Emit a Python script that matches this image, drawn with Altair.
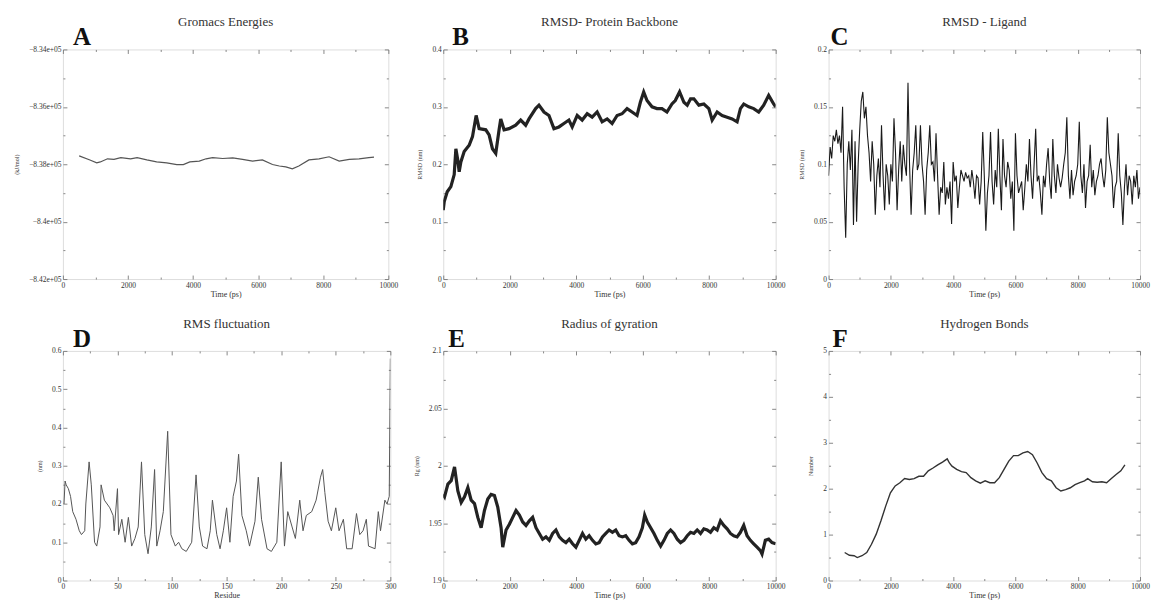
import altair as alt
import pandas as pd

FONT = "Liberation Serif"

# ---------------- data ----------------
# A: Gromacs energies (kJ/mol)
A_time = [500, 830, 1040, 1150, 1370, 1570, 1780, 2080, 2280, 2580, 2880, 3190, 3500, 3700,
          3900, 4190, 4400, 4600, 4910, 5220, 5520, 5830, 6130, 6440, 6650, 6850, 7050, 7250,
          7560, 7870, 8180, 8490, 8800, 9100, 9400, 9560]
A_energy = [-837710, -837850, -837950, -837920, -837810, -837830, -837770, -837810, -837770,
            -837850, -837920, -837950, -838010, -838010, -837920, -837890, -837810, -837770,
            -837800, -837780, -837830, -837890, -837850, -838010, -838060, -838090, -838160,
            -838060, -837850, -837810, -837740, -837890, -837830, -837810, -837770, -837750]

# B: RMSD protein backbone (nm)
B_time = [0, 30, 120, 230, 330, 380, 430, 480, 530, 630, 780, 880, 990, 1080, 1280, 1380, 1480,
          1580, 1680, 1730, 1830, 1980, 2180, 2330, 2480, 2580, 2780, 2880, 3030, 3180, 3330,
          3480, 3630, 3780, 3880, 4030, 4180, 4330, 4480, 4630, 4780, 4930, 5080, 5230, 5380,
          5530, 5680, 5830, 5930, 6030, 6130, 6280, 6430, 6580, 6730, 6880, 6980, 7110, 7240,
          7340, 7440, 7540, 7690, 7840, 7990, 8090, 8240, 8390, 8540, 8690, 8840, 8940, 9040,
          9190, 9340, 9490, 9640, 9790, 9940, 10000]
B_rmsd = [0.12, 0.135, 0.152, 0.161, 0.182, 0.227, 0.21, 0.187, 0.204, 0.222, 0.233, 0.248,
          0.285, 0.262, 0.26, 0.251, 0.227, 0.219, 0.26, 0.279, 0.26, 0.262, 0.268, 0.277, 0.268,
          0.279, 0.297, 0.303, 0.291, 0.285, 0.262, 0.265, 0.271, 0.277, 0.265, 0.285, 0.277,
          0.288, 0.282, 0.291, 0.274, 0.279, 0.271, 0.285, 0.288, 0.297, 0.291, 0.285, 0.308,
          0.326, 0.311, 0.30, 0.297, 0.297, 0.291, 0.305, 0.311, 0.326, 0.308, 0.303, 0.314,
          0.314, 0.303, 0.305, 0.297, 0.277, 0.291, 0.285, 0.282, 0.279, 0.274, 0.297, 0.305,
          0.30, 0.297, 0.291, 0.303, 0.32, 0.305, 0.30]

# C: RMSD ligand (nm), one value every 50 ps
C_time = list(range(0, 10001, 50))
C_rmsd = [
    0.09, 0.115, 0.105, 0.125, 0.12, 0.13, 0.118, 0.125, 0.11, 0.15,
    0.08, 0.036, 0.1, 0.12, 0.095, 0.13, 0.047, 0.12, 0.05, 0.1,
    0.13, 0.155, 0.163, 0.14, 0.15, 0.125, 0.11, 0.085, 0.12, 0.1,
    0.056, 0.09, 0.105, 0.08, 0.134, 0.09, 0.06, 0.1, 0.09, 0.065,
    0.1, 0.085, 0.14, 0.11, 0.06, 0.095, 0.12, 0.085, 0.117, 0.1,
    0.09, 0.171, 0.1, 0.056, 0.095, 0.11, 0.134, 0.095, 0.1, 0.134,
    0.1, 0.085, 0.056, 0.095, 0.11, 0.134, 0.1, 0.102, 0.085, 0.127,
    0.09, 0.056, 0.08, 0.075, 0.102, 0.065, 0.08, 0.07, 0.085, 0.048,
    0.102, 0.085, 0.09, 0.062, 0.08, 0.095, 0.09, 0.085, 0.093, 0.088,
    0.09, 0.08, 0.095, 0.085, 0.07, 0.09, 0.088, 0.065, 0.085, 0.128,
    0.09, 0.042, 0.075, 0.09, 0.128, 0.085, 0.065, 0.095, 0.08, 0.131,
    0.09, 0.06, 0.122, 0.09, 0.08, 0.102, 0.095, 0.07, 0.085, 0.042,
    0.127, 0.09, 0.075, 0.08, 0.085, 0.06, 0.079, 0.1, 0.085, 0.122,
    0.09, 0.07, 0.1, 0.131, 0.085, 0.09, 0.075, 0.056, 0.09, 0.08,
    0.1, 0.114, 0.085, 0.07, 0.122, 0.09, 0.075, 0.1, 0.088, 0.08,
    0.088, 0.1, 0.11, 0.141, 0.09, 0.07, 0.095, 0.073, 0.085, 0.09,
    0.1, 0.137, 0.09, 0.075, 0.1, 0.062, 0.085, 0.09, 0.117, 0.08,
    0.095, 0.073, 0.085, 0.09, 0.1, 0.105, 0.09, 0.08, 0.095, 0.141,
    0.11, 0.1, 0.09, 0.062, 0.08, 0.085, 0.127, 0.09, 0.075, 0.047,
    0.08, 0.1, 0.073, 0.09, 0.085, 0.065, 0.09, 0.08, 0.095, 0.07,
    0.08]

# D: RMS fluctuation per residue (nm)
D_res = [1, 2, 3, 5, 7, 9, 12, 15, 17, 20,
         21, 24, 26, 29, 31, 34, 35, 38, 43, 46,
         47, 50, 51, 54, 57, 60, 63, 66, 69, 72,
         75, 78, 81, 84, 86, 89, 92, 96, 99, 103,
         106, 109, 113, 118, 122, 125, 128, 132, 135, 137,
         141, 144, 147, 150, 153, 156, 159, 161, 164, 168,
         171, 176, 179, 182, 187, 191, 196, 200, 203, 206,
         210, 213, 217, 220, 223, 228, 232, 236, 238, 240,
         243, 246, 250, 253, 257, 260, 265, 269, 272, 275,
         278, 280, 286, 289, 291, 295, 297, 299, 300]
D_rmsf = [0.20, 0.26, 0.25, 0.24, 0.22, 0.18, 0.16, 0.13, 0.12, 0.13,
          0.20, 0.31, 0.25, 0.10, 0.09, 0.14, 0.25, 0.21, 0.19, 0.17,
          0.13, 0.24, 0.12, 0.16, 0.10, 0.165, 0.09, 0.11, 0.14, 0.31,
          0.12, 0.07, 0.14, 0.29, 0.09, 0.13, 0.18, 0.39, 0.12, 0.09,
          0.10, 0.083, 0.076, 0.10, 0.276, 0.14, 0.09, 0.083, 0.13, 0.21,
          0.12, 0.083, 0.13, 0.19, 0.10, 0.22, 0.26, 0.33, 0.17, 0.13,
          0.09, 0.155, 0.27, 0.16, 0.083, 0.076, 0.10, 0.31, 0.09, 0.18,
          0.14, 0.11, 0.21, 0.13, 0.17, 0.18, 0.21, 0.27, 0.29, 0.23,
          0.155, 0.13, 0.19, 0.13, 0.16, 0.083, 0.083, 0.175, 0.12, 0.13,
          0.16, 0.09, 0.083, 0.18, 0.13, 0.21, 0.20, 0.22, 0.58]

# E: radius of gyration (nm)
E_time = [0, 40, 140, 240, 340, 440, 540, 640, 740, 840,
          940, 1040, 1140, 1240, 1340, 1440, 1540, 1640, 1740, 1790,
          1890, 1990, 2090, 2190, 2290, 2390, 2490, 2590, 2690, 2790,
          2890, 2990, 3090, 3190, 3290, 3390, 3490, 3590, 3690, 3790,
          3890, 3990, 4090, 4190, 4290, 4390, 4490, 4590, 4690, 4790,
          4890, 4990, 5090, 5190, 5290, 5390, 5490, 5590, 5690, 5790,
          5890, 5990, 6060, 6140, 6240, 6340, 6440, 6540, 6640, 6740,
          6840, 6940, 7040, 7140, 7240, 7340, 7440, 7540, 7640, 7740,
          7840, 7940, 8040, 8140, 8240, 8340, 8440, 8540, 8640, 8740,
          8840, 8940, 9040, 9140, 9240, 9340, 9440, 9540, 9590, 9690,
          9790, 9890, 10000]
E_rg = [1.975, 1.973, 1.984, 1.987, 1.999, 1.978, 1.968, 1.973, 1.981, 1.970,
        1.967, 1.955, 1.946, 1.961, 1.971, 1.975, 1.974, 1.964, 1.946, 1.929,
        1.944, 1.949, 1.955, 1.961, 1.957, 1.951, 1.948, 1.952, 1.955, 1.946,
        1.941, 1.936, 1.938, 1.935, 1.941, 1.944, 1.938, 1.935, 1.933, 1.936,
        1.932, 1.929, 1.935, 1.941, 1.936, 1.939, 1.935, 1.932, 1.933, 1.938,
        1.941, 1.944, 1.942, 1.944, 1.939, 1.938, 1.939, 1.935, 1.932, 1.933,
        1.938, 1.946, 1.957, 1.951, 1.946, 1.941, 1.935, 1.930, 1.935, 1.941,
        1.944, 1.941, 1.936, 1.933, 1.935, 1.939, 1.942, 1.941, 1.944, 1.941,
        1.945, 1.944, 1.942, 1.946, 1.944, 1.952, 1.948, 1.945, 1.941, 1.939,
        1.938, 1.942, 1.948, 1.939, 1.935, 1.932, 1.929, 1.926, 1.923, 1.935,
        1.936, 1.933, 1.932]

# F: number of hydrogen bonds
F_time = [517, 669, 821, 922, 1074, 1226, 1378, 1530, 1682, 1834,
          1986, 2138, 2290, 2442, 2594, 2746, 2898, 3050, 3202, 3354,
          3506, 3658, 3810, 3880, 3962, 4114, 4266, 4418, 4570, 4722,
          4874, 5026, 5178, 5330, 5482, 5634, 5786, 5938, 6090, 6242,
          6394, 6546, 6698, 6850, 7002, 7154, 7306, 7458, 7610, 7762,
          7914, 8066, 8218, 8320, 8472, 8624, 8776, 8928, 9080, 9232,
          9384, 9515]
F_hb = [0.61, 0.55, 0.54, 0.50, 0.54, 0.61, 0.79, 1.01, 1.30, 1.62,
        1.91, 2.06, 2.13, 2.22, 2.20, 2.22, 2.27, 2.27, 2.39, 2.45,
        2.52, 2.58, 2.65, 2.56, 2.49, 2.42, 2.37, 2.35, 2.24, 2.17,
        2.12, 2.17, 2.13, 2.13, 2.24, 2.42, 2.60, 2.72, 2.72, 2.78,
        2.81, 2.74, 2.56, 2.35, 2.22, 2.17, 2.02, 1.95, 1.98, 2.02,
        2.09, 2.13, 2.17, 2.22, 2.15, 2.14, 2.15, 2.13, 2.22, 2.31,
        2.39, 2.52]

# tick positions (labels)
TIME_MAJOR = [0, 2000, 4000, 6000, 8000, 10000]
TIME_MINOR = [1000, 3000, 5000, 7000, 9000]
A_Y_MAJOR = [-842000, -840000, -838000, -836000, -834000]
A_Y_MINOR = [-841000, -839000, -837000, -835000]
B_Y_MAJOR = [0, 0.1, 0.2, 0.3, 0.4]
B_Y_MINOR = [0.05, 0.15, 0.25, 0.35]
C_Y_MAJOR = [0, 0.05, 0.1, 0.15, 0.2]
C_Y_MINOR = [0.025, 0.075, 0.125, 0.175]
D_X_MAJOR = [0, 50, 100, 150, 200, 250, 300]
D_X_MINOR = [25, 75, 125, 175, 225, 275]
D_Y_MAJOR = [0, 0.1, 0.2, 0.3, 0.4, 0.5, 0.6]
D_Y_MINOR = [0.05, 0.15, 0.25, 0.35, 0.45, 0.55]
E_Y_MAJOR = [1.9, 1.95, 2.0, 2.05, 2.1]
E_Y_MINOR = [1.925, 1.975, 2.025, 2.075]
F_Y_MAJOR = [0, 1, 2, 3, 4, 5]
F_Y_MINOR = [0.5, 1.5, 2.5, 3.5, 4.5]

PANEL_H = 230


def make_axis(orient, values, ticksize, labels=False, title=None, label_expr=None,
              tpad=2, tsize=7):
    kw = dict(orient=orient, values=values, offset=-ticksize, tickSize=ticksize,
              domain=False, grid=False, tickColor="#6a6a6a", tickWidth=0.8,
              labels=labels, labelFlush=False)
    if labels:
        kw.update(labelFont=FONT, labelFontSize=7.5, labelColor="#333333",
                  labelPadding=2, format=".6~g", labelOverlap=False)
        if label_expr:
            kw["labelExpr"] = label_expr
    if title:
        kw.update(title=title, titleFont=FONT, titleFontSize=tsize,
                  titleFontWeight="normal", titleColor="#333333", titlePadding=tpad)
    else:
        kw["title"] = None
    return alt.Axis(**kw)


def panel(df, xf, yf, xdom, ydom, xmaj, xmin, ymaj, ymin, title, xtitle, ytitle,
          letter, letter_dx, width, color, sw, yexpr=None):
    xs = alt.Scale(domain=xdom, nice=False, zero=False)
    ys = alt.Scale(domain=ydom, nice=False, zero=False)
    base = alt.Chart(df)

    def enc(xa, ya):
        return dict(x=alt.X(f"{xf}:Q", scale=xs, axis=xa),
                    y=alt.Y(f"{yf}:Q", scale=ys, axis=ya))

    main = base.mark_line(color=color, strokeWidth=sw, clip=True).encode(
        **enc(make_axis("bottom", xmaj, 4, True, xtitle, tpad=2, tsize=8),
              make_axis("left", ymaj, 4, True, ytitle, label_expr=yexpr, tpad=9, tsize=6)))
    opp = base.mark_line(strokeOpacity=0).encode(
        **enc(make_axis("top", xmaj, 4), make_axis("right", ymaj, 4)))
    mn1 = base.mark_line(strokeOpacity=0).encode(
        **enc(make_axis("bottom", xmin, 2), make_axis("left", ymin, 2)))
    mn2 = base.mark_line(strokeOpacity=0).encode(
        **enc(make_axis("top", xmin, 2), make_axis("right", ymin, 2)))
    lab = alt.Chart(pd.DataFrame({"t": [letter]})).mark_text(
        font=FONT, fontSize=25, fontWeight="bold", align="left",
        baseline="alphabetic", color="#111111").encode(
        text="t:N", x=alt.value(letter_dx), y=alt.value(-4))
    ttl = alt.Chart(pd.DataFrame({"t": [title]})).mark_text(
        font=FONT, fontSize=13, align="center", baseline="alphabetic",
        color="#333333").encode(
        text="t:N", x=alt.value(width / 2), y=alt.value(-23))
    return alt.layer(main, opp, mn1, mn2, lab, ttl).resolve_axis(
        x="independent", y="independent").properties(width=width, height=PANEL_H)


dfA = pd.DataFrame({"time": A_time, "energy": A_energy})
dfB = pd.DataFrame({"time": B_time, "rmsd": B_rmsd})
dfC = pd.DataFrame({"time": C_time, "rmsd": C_rmsd})
dfD = pd.DataFrame({"res": D_res, "rmsf": D_rmsf})
dfE = pd.DataFrame({"time": E_time, "rg": E_rg})
dfF = pd.DataFrame({"time": F_time, "hb": F_hb})

A_EXPR = "replace(format(datum.value, '.3~e'), 'e+5', 'e+05')"

pA = panel(dfA, "time", "energy", [0, 10000], [-842000, -834000], TIME_MAJOR, TIME_MINOR,
           A_Y_MAJOR, A_Y_MINOR, "Gromacs Energies", "Time (ps)", "(kJ/mol)", "A", 10,
           326, "#555555", 1.2, yexpr=A_EXPR)
pB = panel(dfB, "time", "rmsd", [0, 10000], [0, 0.4], TIME_MAJOR, TIME_MINOR,
           B_Y_MAJOR, B_Y_MINOR, "RMSD- Protein Backbone", "Time (ps)", "RMSD (nm)", "B", 9,
           333, "#222222", 3.2)
pC = panel(dfC, "time", "rmsd", [0, 10000], [0, 0.2], TIME_MAJOR, TIME_MINOR,
           C_Y_MAJOR, C_Y_MINOR, "RMSD - Ligand", "Time (ps)", "RMSD (nm)", "C", 2,
           312, "#1a1a1a", 1.1)
pD = panel(dfD, "res", "rmsf", [0, 300], [0, 0.6], D_X_MAJOR, D_X_MINOR,
           D_Y_MAJOR, D_Y_MINOR, "RMS fluctuation", "Residue", "(nm)", "D", 10,
           328, "#555555", 1.0)
pE = panel(dfE, "time", "rg", [0, 10000], [1.9, 2.1], TIME_MAJOR, TIME_MINOR,
           E_Y_MAJOR, E_Y_MINOR, "Radius of gyration", "Time (ps)", "Rg (nm)", "E", 5,
           333, "#222222", 3.2)
pF = panel(dfF, "time", "hb", [0, 10000], [0, 5], TIME_MAJOR, TIME_MINOR,
           F_Y_MAJOR, F_Y_MINOR, "Hydrogen Bonds", "Time (ps)", "Number", "F", 4,
           312, "#333333", 1.4)

chart = alt.concat(
    pA, pB, pC, pD, pE, pF, columns=3, bounds="flush", align="each",
    spacing={"row": 72, "column": 53}
).properties(
    padding={"left": 5, "top": 7, "right": 2, "bottom": 2}
).configure_view(stroke="#666666", strokeWidth=1).configure(background="white")

chart.save("out.html", embed_options={"renderer": "svg", "actions": False})
